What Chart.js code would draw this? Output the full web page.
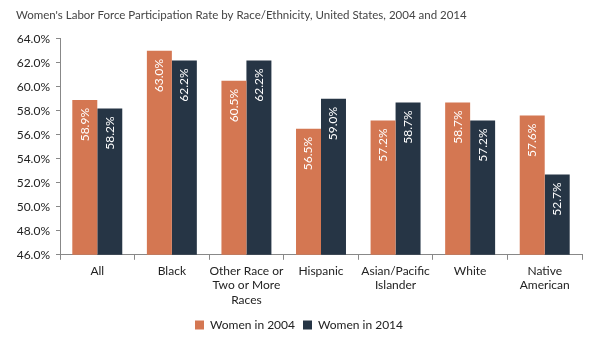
<!DOCTYPE html>
<html lang="en">
<head>
  <meta charset="UTF-8" />
  <title>Women's Labor Force Participation</title>
  <style>
    body {
      margin: 0;
      background: white;
    }
    .wrap {
      width: 602px;
      height: 343px;
    }
  </style>
</head>
<body>
  <div class="wrap">
    <canvas id="laborChart"></canvas>
  </div>

  <script src="https://cdn.jsdelivr.net/npm/chart.js"></script>
  <script>
    const categories = [
      'All',
      'Black',
      ['Other Race or', 'Two or More', 'Races'],
      'Hispanic',
      ['Asian/Pacific', 'Islander'],
      'White',
      ['Native', 'American']
    ];
    const women2004 = [58.9, 63.0, 60.5, 56.5, 57.2, 58.7, 57.6];
    const women2014 = [58.2, 62.2, 62.2, 59.0, 58.7, 57.2, 52.7];

    const fontFamily = "Lato, 'Open Sans', sans-serif";

    // white rotated labels just inside the top of each bar
    const barLabels = {
      id: 'barLabels',
      afterDatasetsDraw(chart) {
        const ctx = chart.ctx;
        ctx.save();
        ctx.fillStyle = '#ffffff';
        ctx.font = '12px ' + fontFamily;
        ctx.textAlign = 'right';
        ctx.textBaseline = 'middle';
        chart.data.datasets.forEach((ds, i) => {
          chart.getDatasetMeta(i).data.forEach((bar, j) => {
            ctx.save();
            ctx.translate(bar.x, bar.y + 8);
            ctx.rotate(-Math.PI / 2);
            ctx.fillText(ds.data[j].toFixed(1) + '%', 0, 0);
            ctx.restore();
          });
        });
        ctx.restore();
      }
    };

    new Chart(document.getElementById('laborChart'), {
      type: 'bar',
      data: {
        labels: categories,
        datasets: [
          {
            label: 'Women in 2004',
            data: women2004,
            backgroundColor: '#d47752'
          },
          {
            label: 'Women in 2014',
            data: women2014,
            backgroundColor: '#263545'
          }
        ]
      },
      options: {
        responsive: true,
        maintainAspectRatio: false,
        animation: false,
        layout: { padding: { left: 16, right: 20, top: 0, bottom: 2 } },
        datasets: {
          bar: { categoryPercentage: 0.67, barPercentage: 1.0 }
        },
        scales: {
          y: {
            min: 46,
            max: 64,
            afterFit: s => { s.width = 44; },
            ticks: {
              stepSize: 2,
              color: '#222',
              padding: 6,
              font: { family: fontFamily, size: 12 },
              callback: v => v.toFixed(1) + '%'
            },
            grid: { drawOnChartArea: false, tickLength: 4, color: '#888' },
            border: { color: '#888' }
          },
          x: {
            ticks: {
              color: '#222',
              padding: 4,
              font: { family: fontFamily, size: 12, lineHeight: 1.2 },
              maxRotation: 0,
              autoSkip: false
            },
            grid: { drawOnChartArea: false, tickLength: 5, color: '#888' },
            border: { color: '#888' }
          }
        },
        plugins: {
          title: {
            display: true,
            text: "Women's Labor Force Participation Rate by Race/Ethnicity, United States, 2004 and 2014",
            align: 'start',
            color: '#444',
            font: { family: fontFamily, size: 11.5, weight: 'normal' },
            padding: { top: 8, bottom: 17 }
          },
          legend: {
            position: 'bottom',
            labels: {
              boxWidth: 9,
              boxHeight: 9,
              color: '#222',
              padding: 8,
              font: { family: fontFamily, size: 12 }
            }
          },
          tooltip: { enabled: false }
        }
      },
      plugins: [barLabels]
    });
  </script>
</body>
</html>
